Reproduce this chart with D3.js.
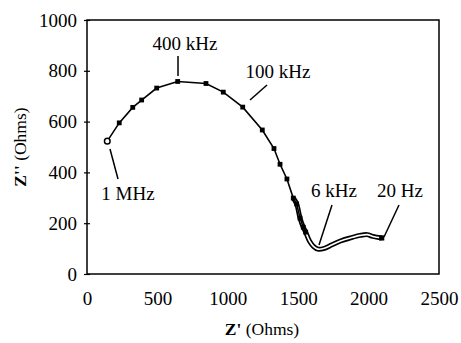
<!DOCTYPE html>
<html><head><meta charset="utf-8">
<script src="https://cdn.jsdelivr.net/npm/d3@7"></script>
<style>body{margin:0;background:#fff}svg{display:block}svg text{font-family:"Times New Roman","Liberation Serif",Tinos,serif}</style>
</head><body><svg id="c" width="461" height="343"></svg>
<script>
// Impedance data (Z' real, Z'' imaginary), Ohms
const zReal = [144, 229, 325, 388, 495, 644, 845, 968, 1106, 1245, 1328, 1371, 1420, 1465, 1489, 1513, 1536, 1553];
const zImag = [523, 595, 656, 685, 732, 758, 750, 716, 657, 567, 494, 432, 374, 299, 276, 220, 184, 165];
const tailReal = [1465, 1489, 1513, 1536, 1553, 1580, 1610, 1640, 1680, 1740, 1800, 1870, 1940, 1990, 2030, 2093];
const tailImag = [299, 276, 220, 184, 165, 130, 108, 98, 100, 115, 130, 142, 152, 155, 148, 142];
const xTicks = [0, 500, 1000, 1500, 2000, 2500];
const yTicks = [0, 200, 400, 600, 800, 1000];
const annotations = ["1 MHz", "400 kHz", "100 kHz", "6 kHz", "20 Hz"];

const FONT = "Times New Roman";
const svg = d3.select("#c");
const x = d3.scaleLinear().domain([0, 2500]).range([87, 439]);
const y = d3.scaleLinear().domain([0, 1000]).range([274, 20]);

// frame
svg.append("rect").attr("x", x(0)).attr("y", y(1000)).attr("width", x(2500) - x(0)).attr("height", y(0) - y(1000))
  .attr("fill", "none").attr("stroke", "#000").attr("stroke-width", 1.5);

// axes
const xa = svg.append("g").attr("transform", `translate(0,${y(0)})`)
  .call(d3.axisBottom(x).tickValues(xTicks).tickSize(0).tickPadding(17.5).tickFormat(d3.format("d")));
const ya = svg.append("g").attr("transform", `translate(${x(0)},0)`)
  .call(d3.axisLeft(y).tickValues(yTicks).tickSize(3).tickPadding(7).tickFormat(d3.format("d")));
[xa, ya].forEach(g => {
  g.attr("font-family", FONT).attr("font-size", 19);
  g.select(".domain").remove();
  g.selectAll("text").attr("font-family", FONT).attr("font-size", 19).attr("fill", "#000");
  g.selectAll("line").attr("stroke", "#000").attr("stroke-width", 1.2);
});
ya.selectAll(".tick line").attr("x2", 3).attr("x1", -3);

// axis titles
const xt = svg.append("text").attr("x", 262).attr("y", 335).attr("text-anchor", "middle")
  .attr("font-family", FONT).attr("font-size", 17.5).attr("fill", "#000");
xt.append("tspan").attr("font-weight", "bold").text("Z'");
xt.append("tspan").text(" (Ohms)");
const yt = svg.append("text").attr("transform", "translate(26,147) rotate(-90)").attr("text-anchor", "middle")
  .attr("font-family", FONT).attr("font-size", 17.5).attr("fill", "#000");
yt.append("tspan").attr("font-weight", "bold").text("Z''");
yt.append("tspan").text(" (Ohms)");

// tail double line
const line = d3.line().x(d => x(d[0])).y(d => y(d[1])).curve(d3.curveCatmullRom);
const tail = tailReal.map((v, i) => [v, tailImag[i]]);
svg.append("path").attr("d", line(tail)).attr("fill", "none").attr("stroke", "#000").attr("stroke-width", 5);
svg.append("path").attr("d", line(tail)).attr("fill", "none").attr("stroke", "#fff").attr("stroke-width", 1.6);

// main line
const main = zReal.map((v, i) => [v, zImag[i]]);
svg.append("path").attr("d", d3.line().x(d => x(d[0])).y(d => y(d[1]))(main)).attr("fill", "none").attr("stroke", "#000").attr("stroke-width", 1.6);

// markers
svg.selectAll("rect.m").data(main.slice(1)).enter().append("rect").attr("class", "m")
  .attr("x", d => x(d[0]) - 2.4).attr("y", d => y(d[1]) - 2.4).attr("width", 4.8).attr("height", 4.8)
  .attr("fill", "#000");
svg.append("circle").attr("cx", x(main[0][0])).attr("cy", y(main[0][1])).attr("r", 2.8)
  .attr("fill", "#fff").attr("stroke", "#000").attr("stroke-width", 1.5);
const endPt = tail[tail.length - 1];
svg.append("rect").attr("x", x(endPt[0]) - 2.6).attr("y", y(endPt[1]) - 2.6).attr("width", 5.2).attr("height", 5.2).attr("fill", "#000");

// annotations
const labels = [
  {t: annotations[0], tx: 128, ty: 200, l: [110, 149, 118, 179]},
  {t: annotations[1], tx: 185, ty: 50, l: [178, 56, 178, 76]},
  {t: annotations[2], tx: 278, ty: 78, l: [267, 85, 250, 100]},
  {t: annotations[3], tx: 334, ty: 197, l: [332, 205, 319, 245]},
  {t: annotations[4], tx: 400, ty: 197, l: [399, 205, 384, 237]}
];
labels.forEach(a => {
  svg.append("text").attr("x", a.tx).attr("y", a.ty).attr("text-anchor", "middle")
    .attr("font-family", FONT).attr("font-size", 19).attr("fill", "#000").text(a.t);
  svg.append("line").attr("x1", a.l[0]).attr("y1", a.l[1]).attr("x2", a.l[2]).attr("y2", a.l[3]).attr("stroke", "#000").attr("stroke-width", 1.5);
});
</script></body></html>
